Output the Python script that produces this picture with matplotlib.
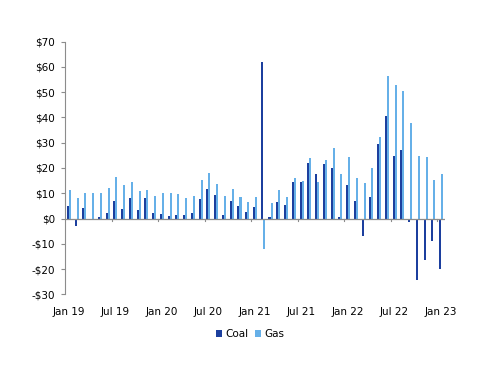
import matplotlib.pyplot as plt
import numpy as np

# monthly values, Jan 19 .. Jan 23
months = ['Jan 19', 'Feb 19', 'Mar 19', 'Apr 19', 'May 19', 'Jun 19',
          'Jul 19', 'Aug 19', 'Sep 19', 'Oct 19', 'Nov 19', 'Dec 19',
          'Jan 20', 'Feb 20', 'Mar 20', 'Apr 20', 'May 20', 'Jun 20',
          'Jul 20', 'Aug 20', 'Sep 20', 'Oct 20', 'Nov 20', 'Dec 20',
          'Jan 21', 'Feb 21', 'Mar 21', 'Apr 21', 'May 21', 'Jun 21',
          'Jul 21', 'Aug 21', 'Sep 21', 'Oct 21', 'Nov 21', 'Dec 21',
          'Jan 22', 'Feb 22', 'Mar 22', 'Apr 22', 'May 22', 'Jun 22',
          'Jul 22', 'Aug 22', 'Sep 22', 'Oct 22', 'Nov 22', 'Dec 22',
          'Jan 23']
coal = [5.0, -2.9, 4.0, 0.0, 0.4, 2.1,
        7.1, 3.8, 8.1, 3.4, 8.2, 2.1,
        1.8, 1.1, 1.2, 1.2, 2.0, 7.9,
        11.8, 9.2, 1.2, 6.9, 5.0, 2.5,
        4.6, 61.8, 0.5, 6.7, 5.5, 14.5,
        14.4, 22.1, 17.6, 21.7, 20.1, 0.5,
        13.2, 7.0, -6.9, 8.5, 29.5, 40.4,
        24.7, 27.2, -1.5, -24.4, -16.5, -9.1,
        -19.8]
gas = [11.2, 8.1, 9.9, 10.2, 10.0, 12.0,
       16.5, 13.3, 14.5, 10.8, 11.4, 9.1,
       10.0, 9.9, 9.6, 8.2, 8.9, 15.2,
       18.1, 13.5, 9.1, 11.8, 8.7, 6.5,
       8.5, -12.2, 6.1, 11.2, 8.7, 16.0,
       14.9, 23.8, 14.3, 23.1, 27.9, 17.6,
       24.3, 16.1, 14.0, 20.1, 32.2, 56.4,
       53.0, 50.5, 38.0, 24.7, 24.2, 15.2,
       17.8]
yticks = list(range(-30, 80, 10))

coal_color = '#1c3f9e'
gas_color = '#66b0e8'

fig = plt.figure(figsize=(5, 3.86), dpi=100)
ax = fig.add_axes([0.13, 0.2376, 0.76, 0.6544])

x = np.arange(len(months))
w = 0.26
ax.bar(x - w / 2, coal, width=w, color=coal_color, label='Coal')
ax.bar(x + w / 2, gas, width=w, color=gas_color, label='Gas')

ax.set_xlim(-0.5, len(months) - 0.5)
ax.set_ylim(-30, 70)

# zero line acts as category axis, with small ticks at half-year boundaries
ax.axhline(0, color='#8c8c8c', lw=0.9, zorder=3)
for b in np.arange(5.5, len(months), 6):
    ax.plot([b, b], [0, -0.9], color='#8c8c8c', lw=0.8, zorder=3)

ax.set_xticks(x[::6])
ax.set_xticklabels(months[::6], fontsize=7.5)
ax.tick_params(axis='x', length=0, pad=9)

ax.set_yticks(yticks)
ax.set_yticklabels(['-$%d' % -v if v < 0 else '$%d' % v for v in yticks],
                   fontsize=7.5)
ax.tick_params(axis='y', length=3, width=0.8, color='#8c8c8c', pad=4)

for s in ['top', 'right', 'bottom']:
    ax.spines[s].set_visible(False)
ax.spines['left'].set_color('#8c8c8c')
ax.spines['left'].set_linewidth(0.8)

fig.legend(loc='center', bbox_to_anchor=(0.5, 0.135), ncol=2, frameon=False,
           fontsize=7.5, handlelength=0.6, handleheight=0.6,
           handletextpad=0.3, columnspacing=0.6)

fig.savefig('out.png', dpi=100)
